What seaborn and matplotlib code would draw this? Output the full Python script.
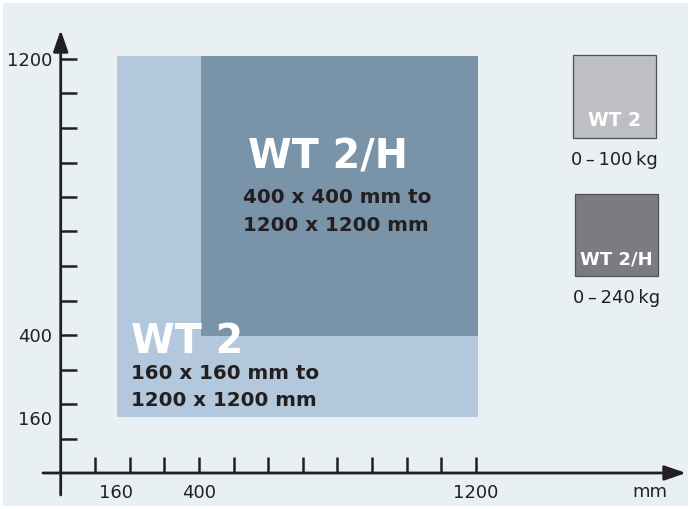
import matplotlib
matplotlib.use("Agg")
import matplotlib.pyplot as plt
import seaborn as sns
import numpy as np
from matplotlib.patches import Rectangle

sns.set_style("white")
plt.rcParams["font.family"] = ["DejaVu Sans", "Noto Sans"]

# ---------------- data ----------------
models = ["WT 2", "WT 2/H"]
min_x = [163, 407]          # mm, left edge of the working range
min_y = [163, 397]          # mm, bottom edge
max_x = [1207, 1207]        # mm, right edge
max_y = [1208, 1208]        # mm, top edge
size_lines = [["160 x 160 mm to", "1200 x 1200 mm"],
              ["400 x 400 mm to", "1200 x 1200 mm"]]
loads = ["0\u2009\u2013\u2009100\u2009kg", "0\u2009\u2013\u2009240\u2009kg"]
tick_marks = [100, 200, 300, 400, 500, 600, 700, 800, 900, 1000, 1100, 1200]
tick_labels = [160, 400, 1200]
unit_label = "mm"

# ---------------- style ----------------
W, H = 691, 509
BG = "#e8f0f4"
RECT_COLORS = ["#b3c8dc", "#7993a9"]
LEG_COLORS = ["#bebfc3", "#7b7c80"]
INK = "#231f20"

fig = plt.figure(figsize=(W / 100, H / 100), dpi=100, facecolor="white")

def fx(px):
    return px / W

def fy(py):
    return 1 - py / H

fig.patches.append(Rectangle((fx(3), fy(506)), fx(685), (503) / H,
                             transform=fig.transFigure, facecolor=BG,
                             edgecolor="none", zorder=-10))

# pixel mapping of data space
PX_X0, SX = 60.7, 0.3458
PX_Y0, SY = 473.0, 0.345
ax = fig.add_axes([0, 0, 1, 1])
ax.set_facecolor("none")
ax.set_xlim(-PX_X0 / SX, (W - PX_X0) / SX)
ax.set_ylim((PX_Y0 - H) / SY, PX_Y0 / SY)

# working-range rectangles
ax.bar(x=min_x, height=np.subtract(max_y, min_y), width=np.subtract(max_x, min_x),
       bottom=min_y, align="edge", color=RECT_COLORS, edgecolor="none",
       linewidth=0, zorder=1)

# axes with arrows
for s in ax.spines.values():
    s.set_visible(False)
ax.spines["left"].set_position(("data", 0))
ax.spines["bottom"].set_position(("data", 0))
arrow = dict(arrowstyle="-|>,head_length=1.3,head_width=0.45", color=INK,
             lw=2.0, shrinkA=0, shrinkB=0, mutation_scale=10)
ax.annotate("", xy=((686 - PX_X0) / SX, 0), xytext=((43 - PX_X0) / SX, 0),
            arrowprops=arrow, zorder=3)
ax.annotate("", xy=(0, (PX_Y0 - 30) / SY), xytext=(0, (PX_Y0 - 495) / SY),
            arrowprops=arrow, zorder=3)

# ticks
ax.xaxis.remove_overlapping_locs = False
ax.yaxis.remove_overlapping_locs = False
ax.set_xticks(tick_marks, minor=True)
ax.set_yticks(tick_marks, minor=True)
ax.set_xticks(tick_labels)
ax.set_yticks(tick_labels)
ax.set_xticklabels([str(v) for v in tick_labels])
ax.set_yticklabels([str(v) for v in tick_labels])
ax.tick_params(which="minor", direction="in", length=11.5, width=1.8, color=INK,
               bottom=True, left=True)
ax.tick_params(which="major", length=0, labelsize=13, labelcolor=INK)
ax.tick_params(axis="x", which="major", pad=8)
ax.tick_params(axis="y", which="major", pad=6)
ax.grid(False)

fig.text(fx(650), fy(492), unit_label, fontsize=13, color=INK,
         ha="center", va="center")

# labels inside the rectangles
title_pos = [(131, 353), (248, 168)]
line_pos = [[(131, 379), (131, 406)], [(243, 203), (243, 231)]]
for m, (tx, ty), lines, lp in zip(models, title_pos, size_lines, line_pos):
    fig.text(fx(tx), fy(ty), m, fontsize=28.5, fontweight="bold", color="white",
             ha="left", va="baseline", zorder=5)
    for line, (lx, ly) in zip(lines, lp):
        fig.text(fx(lx), fy(ly), line, fontsize=14.3, fontweight="bold",
                 color=INK, ha="left", va="baseline", zorder=5)

# legend boxes
boxes = [(573, 55, 83, 83), (575, 194, 83, 82)]
label_y = [160, 298]
for m, col, (bx, by, bw, bh), ld, ly in zip(models, LEG_COLORS, boxes, loads, label_y):
    fig.patches.append(Rectangle((fx(bx), fy(by + bh)), bw / W, bh / H,
                                 transform=fig.transFigure, facecolor=col,
                                 edgecolor="#505050", linewidth=0.9, zorder=2))
    fig.text(fx(bx + bw / 2), fy(by + bh - 17), m, fontsize=13.5 if m == "WT 2" else 13,
             fontweight="bold", color="white", ha="center", va="center", zorder=5)
    fig.text(fx(bx + bw / 2), fy(ly), ld, fontsize=13, color=INK,
             ha="center", va="center")

fig.savefig("out.png", dpi=100, facecolor="white")
